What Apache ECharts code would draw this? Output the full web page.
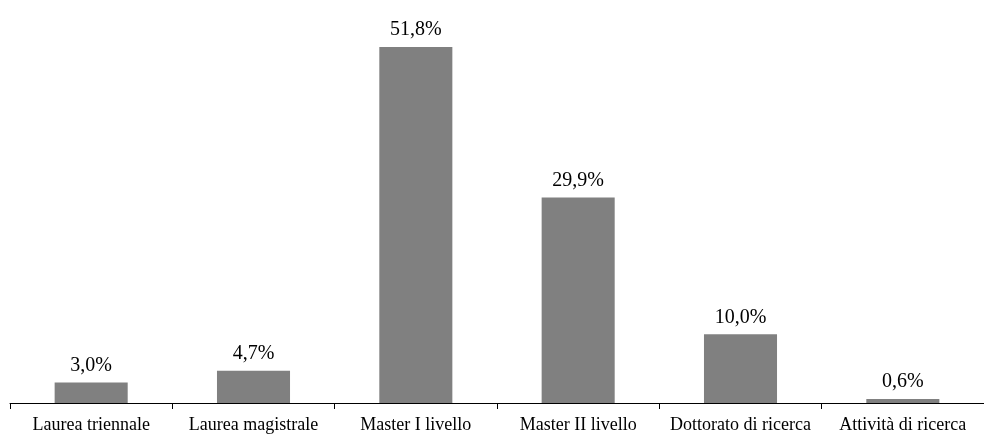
<!DOCTYPE html>
<html>
<head>
<meta charset="utf-8">
<script src="https://cdn.jsdelivr.net/npm/echarts@6/dist/echarts.min.js"></script>
<style>
  html, body { margin: 0; padding: 0; background: #fff; }
  #main { width: 984px; height: 438px; }
</style>
</head>
<body>
<div id="main"></div>
<script>
// categorie e valori (percentuali)
var categories = ['Laurea triennale', 'Laurea magistrale', 'Master I livello', 'Master II livello', 'Dottorato di ricerca', 'Attività di ricerca'];
var values = [3.0, 4.7, 51.8, 29.9, 10.0, 0.6];

var chart = echarts.init(document.getElementById('main'));

var option = {
  animation: false,
  textStyle: { fontFamily: 'Liberation Serif' },
  grid: { left: 10, right: -9, top: 25, bottom: 35 },
  xAxis: {
    type: 'category',
    data: categories,
    axisLine: { lineStyle: { color: '#000', width: 1 } },
    axisTick: { show: true, length: 6, lineStyle: { color: '#000' } },
    axisLabel: { color: '#000', fontSize: 18, fontFamily: 'Liberation Serif', margin: 13, interval: 0 }
  },
  yAxis: {
    type: 'value',
    min: 0,
    max: 55,
    show: false,
    splitLine: { show: false }
  },
  series: [{
    type: 'bar',
    data: values,
    barWidth: '45%',
    itemStyle: { color: '#808080' },
    label: {
      show: true,
      position: 'top',
      distance: 7,
      color: '#000',
      fontSize: 20,
      fontFamily: 'Liberation Serif',
      formatter: function (p) {
        return p.value.toFixed(1).replace('.', ',') + '%';
      }
    }
  }]
};
chart.setOption(option);
</script>
</body>
</html>
